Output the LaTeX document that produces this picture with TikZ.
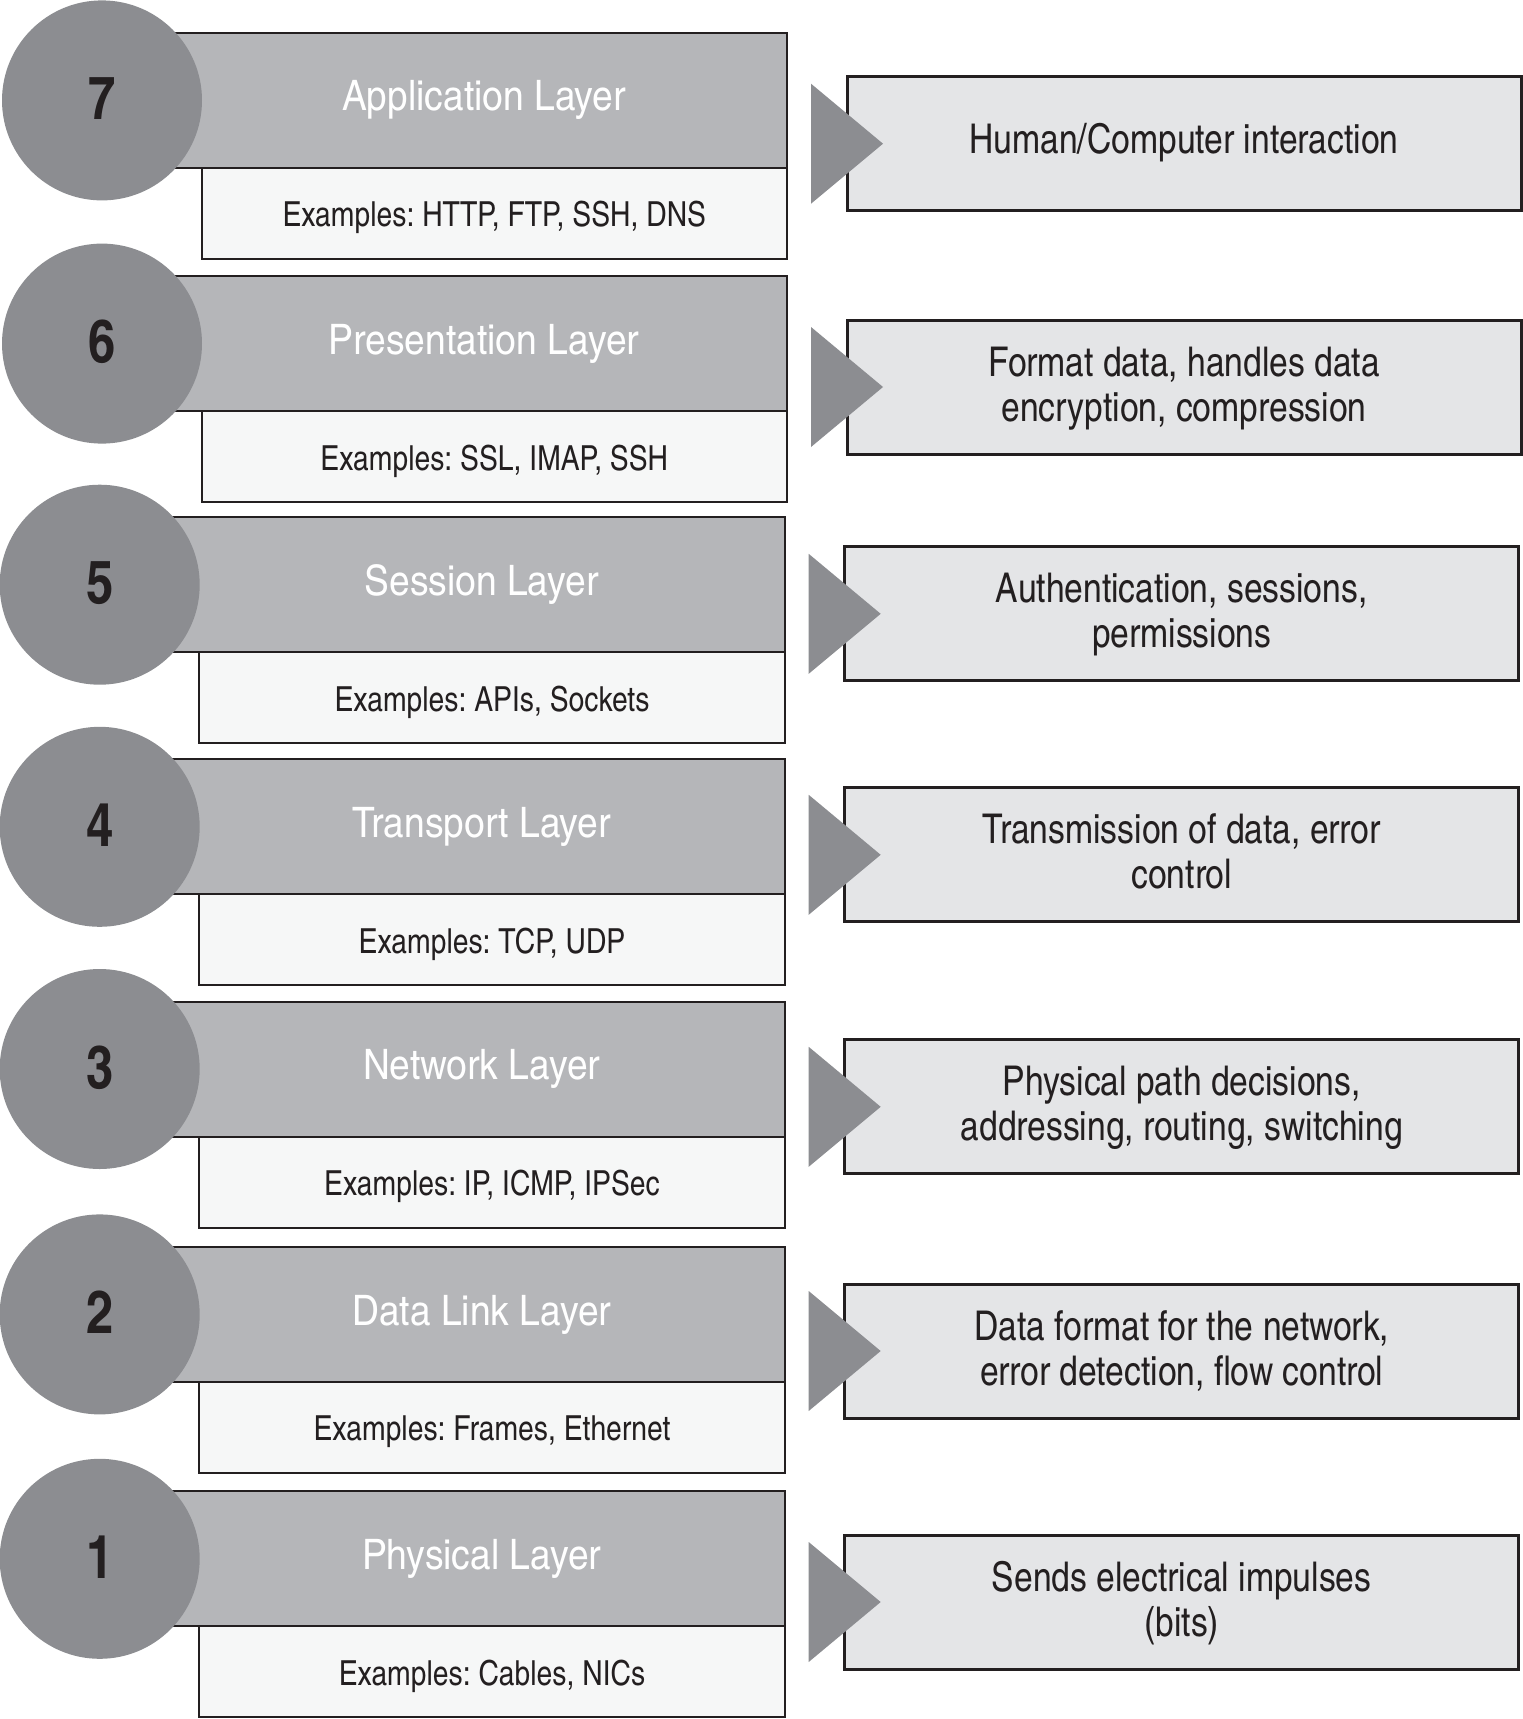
\documentclass[tikz,border=0pt]{standalone}
\usepackage{fontspec}
\setmainfont{texgyreheroscn-regular.otf}[BoldFont=texgyreheroscn-bold.otf]
\newfontfamily\titlefont{texgyreheroscn-regular.otf}[FakeStretch=1.08]
\frenchspacing
\definecolor{circfill}{HTML}{8C8D91}
\definecolor{darkfill}{HTML}{B5B6B9}
\definecolor{exfill}{HTML}{F6F7F7}
\definecolor{descfill}{HTML}{E4E5E7}
\definecolor{edge}{HTML}{231F20}
\tikzset{
  darkbox/.style={rectangle, draw=edge, line width=2pt, fill=darkfill, inner sep=0pt,
    minimum width=687pt, minimum height=135pt, text=white,
    font=\titlefont\fontsize{42}{48}\selectfont},
  exbox/.style={rectangle, draw=edge, line width=2pt, fill=exfill, inner sep=0pt,
    minimum width=585.4pt, minimum height=91pt, text=edge,
    font=\fontsize{34.5}{40}\selectfont},
  numcirc/.style={circle, fill=circfill, inner sep=0pt, minimum size=200pt, text=edge,
    font=\fontsize{60}{66}\selectfont\bfseries},
  descbox/.style={rectangle, draw=edge, line width=3pt, fill=descfill, inner sep=0pt,
    minimum width=674pt, minimum height=134pt, text=edge, align=center,
    font=\fontsize{41}{45}\selectfont},
  pointer/.style={fill=circfill}
}
% #1 number, #2 top of dark box, #3 x shift, #4 title, #5 examples, #6 top of description box, #7 description
\newcommand{\osilayer}[7]{%
  \node[darkbox] (L#1) at ({443.5+#3},{#2+67.5}) {\hspace*{81pt}#4};
  \node[exbox] (E#1) at ({494.3+#3},{#2+180.5}) {\raisebox{-4.4pt}[\height][\depth]{#5}};
  \node[numcirc] (C#1) at ({102+#3},{#2+67.5}) {\raisebox{4pt}{#1}};
  \node[descbox] (D#1) at ({1184+#3},{#6+67}) {\raisebox{-2.5pt}[\height][\depth]{\begin{tabular}{@{}c@{}}#7\end{tabular}}};
  \fill[pointer] ({811+#3},{#6+7}) -- ({883+#3},{#6+67}) -- ({811+#3},{#6+127}) -- cycle;
}
\begin{document}
\begin{tikzpicture}[x=1pt,y=-1pt]
\useasboundingbox (0,0) rectangle (1523,1719);
\osilayer{7}{32.9}{0}{Application Layer}{Examples: HTTP, FTP, SSH, DNS}{76.7}{\raisebox{3pt}{Human/Computer interaction}}
\osilayer{6}{276.1}{0}{Presentation Layer}{Examples: SSL, IMAP, SSH}{320}{Format data, handles data\\encryption, compression}
\osilayer{5}{517.2}{-2.3}{Session Layer}{Examples: APIs, Sockets}{546.8}{Authentication, sessions,\\permissions}
\osilayer{4}{759.3}{-2.3}{Transport Layer}{Examples: TCP, UDP}{787.8}{Transmission of data, error\\control}
\osilayer{3}{1001.5}{-2.3}{Network Layer}{Examples: IP, ICMP, IPSec}{1039.8}{Physical path decisions,\\addressing, routing, switching}
\osilayer{2}{1246.9}{-2.3}{Data Link Layer}{Examples: Frames, Ethernet}{1284}{Data format for the network,\\error detection, flow control}
\osilayer{1}{1491.3}{-2.3}{Physical Layer}{Examples: Cables, NICs}{1535}{Sends electrical impulses\\(bits)}
\end{tikzpicture}
\end{document}
